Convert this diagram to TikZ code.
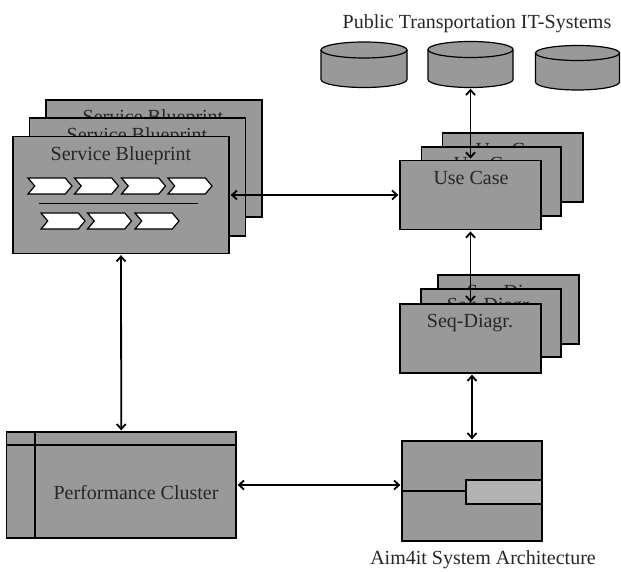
\documentclass[tikz,border=0pt]{standalone}
\usepackage{fontspec}
\setmainfont{Liberation Serif}
\usetikzlibrary{arrows.meta}
\usetikzlibrary{shapes.symbols}

\definecolor{boxgray}{gray}{0.6}
\tikzset{
    box/.style={draw=black, fill=boxgray, line width=1.3pt, inner sep=0pt},
    chevron/.style={signal, signal to=east, signal from=west, signal pointer angle=100,
        draw=black, fill=white, line width=1.2pt, inner sep=0pt, minimum width=44pt, minimum height=16pt},
    store/.style={draw=black, fill=boxgray, line width=1.2pt},
    anchorbox/.style={inner sep=0pt, minimum width=86pt, minimum height=46pt},
    caption/.style={font=\fontsize{20}{24}\selectfont, text=black!85, inner sep=0pt},
    link/.style={black, line width=1.8pt, {Straight Barb[length=5pt,width=9pt]}-{Straight Barb[length=5pt,width=9pt]}, shorten <=1pt, shorten >=1pt}
}

\begin{document}
\begin{tikzpicture}[x=1pt, y=-1pt]
            \useasboundingbox (0,0) rectangle (621,572);

            \node[caption] (publiclabel) at (477,24) {Public Transportation IT-Systems};

            % storage drums
            \node[anchorbox] (storea) at (364,64.5) {};
            \node[anchorbox] (storeb) at (470.5,64.5) {};
            \node[anchorbox] (storec) at (577.5,67.5) {};
            \filldraw[store] (321,50) -- (321,79.5) arc[start angle=180, end angle=360, x radius=43pt, y radius=8pt] -- (407,50);
            \filldraw[store] (364,50) ellipse[x radius=43pt, y radius=8pt];
            \filldraw[store] (428,50) -- (428,79.5) arc[start angle=180, end angle=360, x radius=42.5pt, y radius=8pt] -- (513,50);
            \filldraw[store] (470.5,49.5) ellipse[x radius=42.5pt, y radius=8pt];
            \filldraw[store] (535.5,53) -- (535.5,82) arc[start angle=180, end angle=360, x radius=42pt, y radius=8pt] -- (619.5,53);
            \filldraw[store] (577.5,53) ellipse[x radius=42pt, y radius=7.5pt];

            % service blueprint stack
            \node[box, minimum width=216pt, minimum height=117pt] (blueprintc) at (154,158.5) {};
            \node[caption] (blueprintctext) at (153,119) {Service Blueprint};
            \node[box, minimum width=216pt, minimum height=118pt] (blueprintb) at (137.5,177) {};
            \node[caption] (blueprintbtext) at (137,137) {Service Blueprint};
            \node[box, minimum width=216pt, minimum height=117pt] (blueprint) at (121,195) {};
            \node[caption] (blueprinttext) at (121,155.5) {Service Blueprint};

            \node[chevron] (stepa) at (50,186) {};
            \node[chevron] (stepb) at (96.5,186) {};
            \node[chevron] (stepc) at (143.5,186) {};
            \node[chevron] (stepd) at (190,186) {};
            \coordinate (rulea) at (39,203);
            \coordinate (ruleb) at (198,203);
            \draw[black, line width=0.7pt] (rulea) -- (ruleb);
            \node[chevron] (stepe) at (63,221) {};
            \node[chevron] (stepf) at (109.5,221) {};
            \node[chevron] (stepg) at (157,221) {};

            % use case stack
            \node[box, minimum width=140.5pt, minimum height=69pt] (usecasec) at (512.75,167.5) {};
            \node[caption] (usecasectext) at (513,149.5) {Use Case};
            \node[box, minimum width=139.5pt, minimum height=69pt] (usecaseb) at (491.25,181.5) {};
            \node[caption] (usecasebtext) at (491,163.5) {Use Case};
            \node[box, minimum width=141pt, minimum height=69.5pt] (usecase) at (470.5,195) {};
            \node[caption] (usecasetext) at (471,178) {Use Case};

            % sequence diagram stack
            \node[box, minimum width=141pt, minimum height=69pt] (seqc) at (508.5,309.5) {};
            \node[caption] (seqctext) at (510,294) {Seq-Diagr.};
            \node[box, minimum width=140pt, minimum height=68pt] (seqb) at (491,323) {};
            \node[caption] (seqbtext) at (490,307) {Seq-Diagr.};
            \node[box, minimum width=141pt, minimum height=69pt] (seq) at (470.5,338.5) {};
            \node[caption] (seqtext) at (470,323) {Seq-Diagr.};

            % system architecture
            \node[box, minimum width=140pt, minimum height=100pt] (aim) at (472,491) {};
            \node[draw=black, fill=black!30, line width=1.3pt, inner sep=0pt, minimum width=76pt, minimum height=24pt] (aimport) at (504,492) {};
            \draw[black, line width=1.3pt] (aim.west) -- (aim.west -| aimport.west);
            \node[caption] (aimlabel) at (483,560) {Aim4it System Architecture};

            % performance cluster
            \node[box, minimum width=229.5pt, minimum height=106pt] (cluster) at (121.25,485) {};
            \coordinate (clustertop) at (35,432);
            \coordinate (clusterleft) at (6.5,445);
            \draw[black, line width=1.3pt] (clustertop) -- (clustertop |- cluster.south);
            \draw[black, line width=1.3pt] (clusterleft) -- (clusterleft -| cluster.east);
            \node[caption] (clustertext) at (136,493) {Performance Cluster};

            \draw[link] (blueprint.east) -- (usecase.west);
            \draw[link] (blueprint.south) -- (cluster.north);
            \draw[link] (storeb.south) -- (usecase.north);
            \draw[link] (usecase.south) -- (seq.north);
            \draw[link] (seq.south -| aim.north) -- (aim.north);
            \draw[link] (cluster.east) -- (cluster.east -| aim.west);
        \end{tikzpicture}
\end{document}
